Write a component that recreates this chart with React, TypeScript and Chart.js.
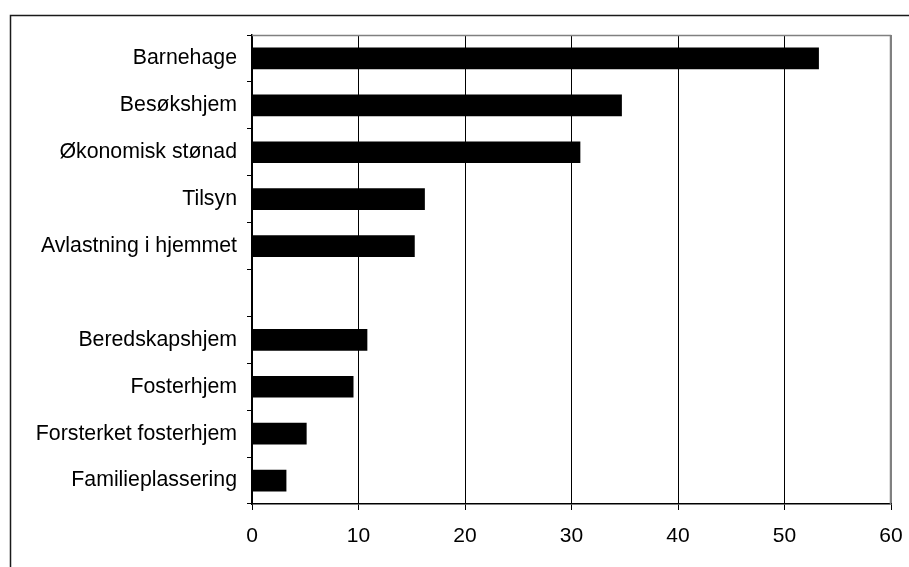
import React, { useEffect, useRef } from "react";
import { Chart, registerables } from "chart.js";

Chart.register(...registerables);

const categories = [
  "Barnehage",
  "Besøkshjem",
  "Økonomisk stønad",
  "Tilsyn",
  "Avlastning i hjemmet",
  "",
  "Beredskapshjem",
  "Fosterhjem",
  "Forsterket fosterhjem",
  "Familieplassering",
];

const values: (number | null)[] = [53.2, 34.7, 30.8, 16.2, 15.25, null, 10.8, 9.5, 5.1, 3.2];

const xMin = 0;
const xMax = 60;
const xStep = 10;

const FONT = '"Liberation Sans", Arial, sans-serif';

const framePlugin = {
  id: "frame",
  beforeDraw(chart: any) {
    const ctx = chart.ctx;
    ctx.save();
    ctx.fillStyle = "#ffffff";
    ctx.fillRect(0, 0, chart.width, chart.height);
    ctx.strokeStyle = "#1a1a1a";
    ctx.lineWidth = 1.5;
    ctx.beginPath();
    ctx.moveTo(10.5, chart.height + 2);
    ctx.lineTo(10.5, 15.5);
    ctx.lineTo(chart.width + 2, 15.5);
    ctx.stroke();
    ctx.restore();
  },
  afterDraw(chart: any) {
    const { ctx, chartArea } = chart;
    ctx.save();
    ctx.strokeStyle = "#808080";
    ctx.lineWidth = 1.5;
    ctx.beginPath();
    ctx.moveTo(chartArea.left, chartArea.top + 0.5);
    ctx.lineTo(chartArea.right - 0.5, chartArea.top + 0.5);
    ctx.lineTo(chartArea.right - 0.5, chartArea.bottom);
    ctx.stroke();
    ctx.restore();
  },
};

export default function App() {
  const ref = useRef<HTMLCanvasElement | null>(null);

  useEffect(() => {
    if (!ref.current) return;
    const chart = new Chart(ref.current, {
      type: "bar",
      data: {
        labels: categories,
        datasets: [
          {
            data: values,
            backgroundColor: "#000000",
            borderWidth: 0,
            barThickness: 21,
            categoryPercentage: 1,
          },
        ],
      },
      options: {
        indexAxis: "y",
        animation: false,
        responsive: false,
        devicePixelRatio: 1,
        layout: { padding: { left: 0, top: 35, right: 18, bottom: 0 } },
        plugins: {
          legend: { display: false },
          tooltip: { enabled: false },
        },
        scales: {
          x: {
            type: "linear",
            min: xMin,
            max: xMax,
            ticks: {
              stepSize: xStep,
              color: "#000000",
              font: { family: FONT, size: 21 },
              padding: 14,
            },
            grid: {
              color: (c: any) => (c.index === 6 ? "#808080" : "#000000"),
              lineWidth: 1,
              tickLength: 6,
              tickColor: "#000000",
              drawTicks: true,
            },
            border: { color: "#000000", width: 1.5 },
            afterFit: (s: any) => {
              s.height = 63;
              s.paddingLeft = 0;
              s.paddingRight = 0;
            },
          },
          y: {
            type: "category",
            ticks: {
              color: "#000000",
              font: { family: FONT, size: 21.3 },
              padding: 10,
              autoSkip: false,
            },
            grid: {
              offset: true,
              drawOnChartArea: false,
              drawTicks: true,
              tickLength: 5,
              color: "#000000",
            },
            border: { color: "#000000", width: 1.5 },
            afterFit: (s: any) => {
              s.width = 252;
              s.paddingTop = 0;
              s.paddingBottom = 0;
            },
          },
        },
      },
      plugins: [framePlugin],
    });
    return () => chart.destroy();
  }, []);

  return (
    <div style={{ position: "fixed", left: 0, top: 0, width: 909, height: 567, background: "#fff" }}>
      <canvas ref={ref} width={909} height={567} style={{ width: 909, height: 567, display: "block" }} />
    </div>
  );
}
